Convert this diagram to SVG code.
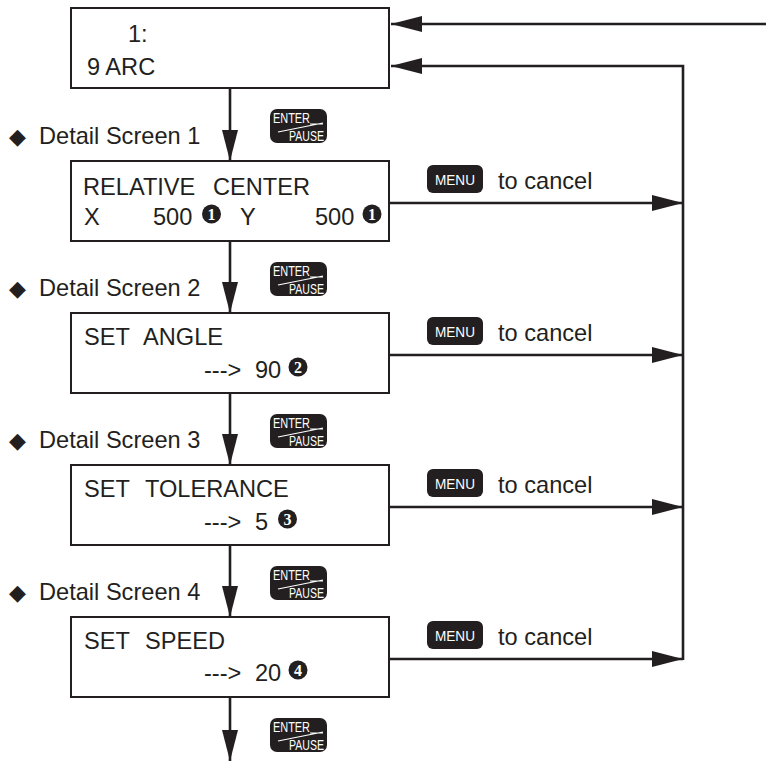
<svg xmlns="http://www.w3.org/2000/svg" width="766" height="763" viewBox="0 0 766 763">
<style>
.box{fill:#fff;stroke:#231f20;stroke-width:2}
.t{font-family:"Liberation Sans",Arial,sans-serif;font-size:23.6px;fill:#231f20}
.dia{font-family:"DejaVu Sans",sans-serif;font-size:22px;fill:#231f20}
.ln{fill:none;stroke:#231f20;stroke-width:2.6}
.arr{marker-end:url(#ah)}
.btn{fill:#231f20}
.bt{font-family:"Liberation Sans",Arial,sans-serif;fill:#fff}
.wl{stroke:#fff;stroke-width:1.2;fill:none}
.cn{fill:#231f20}
.cd{font-family:"Liberation Serif","Times New Roman",serif;font-weight:bold;font-size:16px;fill:#fff;text-anchor:middle}
</style>
<defs>
<marker id="ah" markerUnits="userSpaceOnUse" markerWidth="31" markerHeight="16" refX="31" refY="8" orient="auto">
<path d="M0,0 L31,8 L0,16 z" fill="#231f20"/>
</marker>
<g id="enter">
<rect x="0" y="0" width="57" height="34" rx="7" class="btn"/>
<text x="3" y="14" class="bt" font-size="14" textLength="37" lengthAdjust="spacingAndGlyphs">ENTER</text>
<path d="M8,23 L53,14 M40,15 L53,15" class="wl"/>
<text x="19" y="32" class="bt" font-size="14.5" textLength="35" lengthAdjust="spacingAndGlyphs">PAUSE</text>
</g>
<g id="menu">
<rect x="0" y="0" width="56" height="28" rx="6" class="btn"/>
<text x="28" y="19.5" class="bt" font-size="14" text-anchor="middle" textLength="40" lengthAdjust="spacingAndGlyphs">MENU</text>
</g>
</defs>

<g id="connectors">
<path d="M766,24 L391,24" class="ln arr"/>
<path d="M683,660 L683,66 L391,66" class="ln arr"/>
<path d="M230,88 L230,161" class="ln arr"/>
<path d="M230,241 L230,313" class="ln arr"/>
<path d="M230,393 L230,465" class="ln arr"/>
<path d="M230,545 L230,617" class="ln arr"/>
<path d="M230,697 L230,761" class="ln arr"/>
<path d="M389,203 L683,203" class="ln arr"/>
<path d="M389,355 L683,355" class="ln arr"/>
<path d="M389,507 L683,507" class="ln arr"/>
<path d="M389,659 L683,659" class="ln arr"/>
</g>

<g id="screen-main">
<rect x="71" y="8" width="318" height="80" class="box"/>
<text x="128" y="42" class="t">1:</text>
<text x="87" y="75" class="t">9 ARC</text>
</g>

<g id="detail-1">
<text x="9" y="144" class="dia">◆</text>
<text x="39" y="144" class="t">Detail Screen 1</text>
<use href="#enter" x="270" y="109"/>
<rect x="71" y="161" width="318" height="80" class="box"/>
<text x="83" y="195" class="t">RELATIVE</text>
<text x="213" y="195" class="t">CENTER</text>
<text x="84" y="225" class="t">X</text>
<text x="153" y="225" class="t">500</text>
<circle cx="211.5" cy="214" r="9.5" class="cn"/>
<text x="211.5" y="219.5" class="cd">1</text>
<text x="240" y="225" class="t">Y</text>
<text x="315" y="225" class="t">500</text>
<circle cx="372" cy="214" r="9.5" class="cn"/>
<text x="372" y="219.5" class="cd">1</text>
<use href="#menu" x="427" y="165"/>
<text x="498" y="189" class="t">to cancel</text>
</g>

<g id="detail-2">
<text x="9" y="296" class="dia">◆</text>
<text x="39" y="296" class="t">Detail Screen 2</text>
<use href="#enter" x="270" y="262"/>
<rect x="71" y="313" width="318" height="80" class="box"/>
<text x="84" y="345" class="t">SET</text>
<text x="143" y="345" class="t">ANGLE</text>
<text x="204" y="378" class="t">---&gt;</text>
<text x="255" y="378" class="t">90</text>
<circle cx="298" cy="367" r="9.5" class="cn"/>
<text x="298" y="372.5" class="cd">2</text>
<use href="#menu" x="427" y="317"/>
<text x="498" y="341" class="t">to cancel</text>
</g>

<g id="detail-3">
<text x="9" y="448" class="dia">◆</text>
<text x="39" y="448" class="t">Detail Screen 3</text>
<use href="#enter" x="270" y="414"/>
<rect x="71" y="465" width="318" height="80" class="box"/>
<text x="84" y="497" class="t">SET</text>
<text x="145" y="497" class="t">TOLERANCE</text>
<text x="204" y="530" class="t">---&gt;</text>
<text x="255" y="530" class="t">5</text>
<circle cx="287.5" cy="519" r="9.5" class="cn"/>
<text x="287.5" y="524.5" class="cd">3</text>
<use href="#menu" x="427" y="469"/>
<text x="498" y="493" class="t">to cancel</text>
</g>

<g id="detail-4">
<text x="9" y="600" class="dia">◆</text>
<text x="39" y="600" class="t">Detail Screen 4</text>
<use href="#enter" x="270" y="566"/>
<rect x="71" y="617" width="318" height="80" class="box"/>
<text x="84" y="649" class="t">SET</text>
<text x="145" y="649" class="t">SPEED</text>
<text x="204" y="681" class="t">---&gt;</text>
<text x="255" y="681" class="t">20</text>
<circle cx="298" cy="670" r="9.5" class="cn"/>
<text x="298" y="675.5" class="cd">4</text>
<use href="#menu" x="427" y="621"/>
<text x="498" y="645" class="t">to cancel</text>
</g>

<g id="exit-enter">
<use href="#enter" x="270" y="718"/>
</g>
</svg>
